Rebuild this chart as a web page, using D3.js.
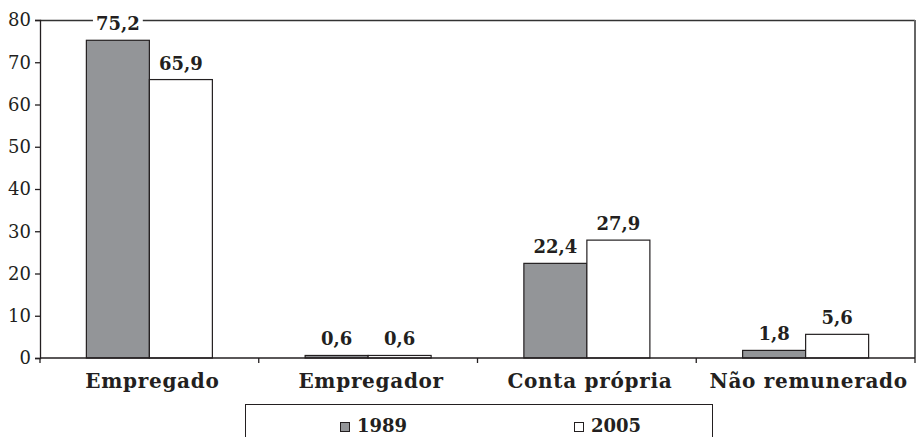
<!DOCTYPE html>
<html><head><meta charset="utf-8">
<script src="https://cdn.jsdelivr.net/npm/d3@7"></script>
<style>
html,body{margin:0;padding:0;background:#fff;}
svg{display:block;}
text{font-family:"DejaVu Serif",serif;fill:#231f20;}
</style></head>
<body>
<svg id="chart" width="917" height="437"></svg>
<script>
const categories = ["Empregado", "Empregador", "Conta própria", "Não remunerado"];
const seriesNames = ["1989", "2005"];
const values1989 = [75.2, 0.6, 22.4, 1.8];
const values2005 = [65.9, 0.6, 27.9, 5.6];
const yTicks = [0, 10, 20, 30, 40, 50, 60, 70, 80];
const seriesColors = ["#939598", "#ffffff"];

const svg = d3.select("#chart");
const L = 40, R = 915, T = 20, B = 358;

const x0 = d3.scaleBand().domain(categories).range([L, R]).paddingInner(0).paddingOuter(0);
const x1 = d3.scaleBand().domain(seriesNames).range([0, x0.bandwidth()]).paddingInner(0).paddingOuter(0.736);
const y = d3.scaleLinear().domain([0, 80]).range([B, T]);

const data = categories.map((c, i) => ({cat: c, vals: [values1989[i], values2005[i]]}));

// frame: top and right
svg.append("line").attr("x1", L).attr("x2", R).attr("y1", T + 0.5).attr("y2", T + 0.5)
  .attr("stroke", "#333").attr("stroke-width", 1.3);
svg.append("line").attr("x1", R).attr("x2", R).attr("y1", T).attr("y2", B)
  .attr("stroke", "#666").attr("stroke-width", 2);

// bars
const g = svg.append("g");
data.forEach(d => {
  d.vals.forEach((v, j) => {
    g.append("rect")
      .attr("x", x0(d.cat) + x1(seriesNames[j]))
      .attr("y", y(v))
      .attr("width", x1.bandwidth())
      .attr("height", B - y(v))
      .attr("fill", seriesColors[j])
      .attr("stroke", "#231f20").attr("stroke-width", 1.2);
  });
});

// y axis
const yAxis = d3.axisLeft(y).tickValues(yTicks).tickSize(5).tickPadding(4).tickFormat(d3.format("d"));
const ya = svg.append("g").attr("transform", `translate(${L},0)`).call(yAxis);
ya.select(".domain").attr("stroke", "#231f20").attr("stroke-width", 1.3);
ya.selectAll(".tick line").attr("stroke", "#231f20").attr("stroke-width", 1.3);
ya.selectAll(".tick text").attr("font-family", "DejaVu Serif").attr("font-size", 18).attr("fill", "#231f20");

// x axis
const xa = svg.append("g").attr("transform", `translate(0,${B})`);
xa.append("line").attr("x1", L).attr("x2", R).attr("y1", 0).attr("y2", 0)
  .attr("stroke", "#231f20").attr("stroke-width", 1.3);
const bounds = categories.map(c => x0(c)).concat([R]);
xa.selectAll("line.tk").data(bounds).enter().append("line").attr("class", "tk")
  .attr("x1", d => d).attr("x2", d => d).attr("y1", 0).attr("y2", 5)
  .attr("stroke", "#231f20").attr("stroke-width", 1.3);
xa.selectAll("text.cat").data(categories).enter().append("text").attr("class", "cat")
  .attr("x", d => x0(d) + x0.bandwidth() / 2 + 3).attr("y", 30)
  .attr("text-anchor", "middle").attr("font-size", 20).attr("font-weight", "bold")
  .attr("letter-spacing", 0.7)
  .text(d => d);

// value labels
const fmt = v => v.toFixed(1).replace(".", ",");
data.forEach(d => {
  d.vals.forEach((v, j) => {
    const cx = x0(d.cat) + x1(seriesNames[j]) + x1.bandwidth() / 2;
    const t = svg.append("text")
      .attr("x", cx).attr("y", y(v) - 10)
      .attr("text-anchor", "middle").attr("font-size", 18).attr("font-weight", "bold")
      .text(fmt(v));
    const bb = t.node().getBBox();
    svg.insert("rect", () => t.node())
      .attr("x", bb.x - 3).attr("y", bb.y).attr("width", bb.width + 6).attr("height", bb.height)
      .attr("fill", "#fff");
  });
});

// legend
const lg = svg.append("g");
lg.append("rect").attr("x", 245.5).attr("y", 404.5).attr("width", 467).attr("height", 40)
  .attr("fill", "#fff").attr("stroke", "#231f20").attr("stroke-width", 1);
const legX = [340, 574];
seriesNames.forEach((s, i) => {
  lg.append("rect").attr("x", legX[i] + 0.5).attr("y", 422.5).attr("width", 9).attr("height", 9)
    .attr("fill", seriesColors[i]).attr("stroke", "#231f20").attr("stroke-width", 1);
  lg.append("text").attr("x", legX[i] + 17).attr("y", 432)
    .attr("font-size", 18).attr("font-weight", "bold").text(s);
});
</script>
</body></html>
